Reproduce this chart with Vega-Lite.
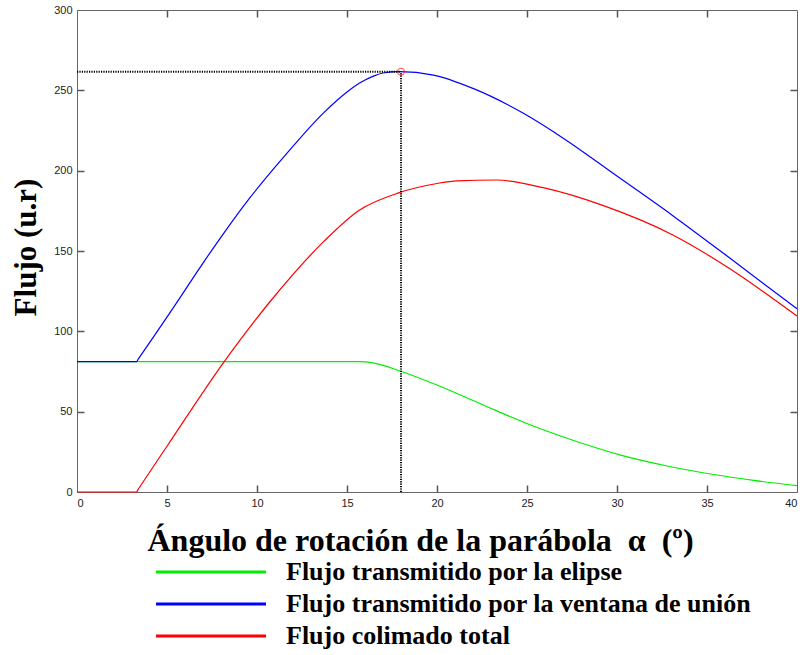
{
  "$schema": "https://vega.github.io/schema/vega-lite/v6.json",
  "width": 720,
  "height": 482,
  "autosize": {"type": "none"},
  "padding": {"left": 77, "top": 10, "right": 8, "bottom": 163},
  "background": "white",
  "config": {
    "view": {"stroke": "#666666", "strokeWidth": 1},
    "axis": {
      "domainColor": "#666666",
      "grid": false,
      "labelFont": "Liberation Sans",
      "labelFontSize": 11,
      "labelColor": "#222222"
    },
    "legend": {
      "orient": "none",
      "legendX": 121,
      "legendY": 549,
      "title": null,
      "symbolType": "M-5,0H5",
      "symbolSize": 484,
      "symbolStrokeWidth": 3,
      "labelFont": "Liberation Serif",
      "labelFontWeight": "bold",
      "labelFontSize": 26,
      "labelColor": "black",
      "labelOffset": 62,
      "labelLimit": 0,
      "rowPadding": 6,
      "padding": 0
    }
  },
  "datasets": {
    "curvas": [
      {"x": 0, "y": 81.1, "serie": "Flujo transmitido por la elipse"},
      {"x": 3.3, "y": 81.1, "serie": "Flujo transmitido por la elipse"},
      {"x": 15.7, "y": 81.1, "serie": "Flujo transmitido por la elipse"},
      {"x": 16.5, "y": 80.2, "serie": "Flujo transmitido por la elipse"},
      {"x": 17.9, "y": 75.5, "serie": "Flujo transmitido por la elipse"},
      {"x": 20.0, "y": 66.6, "serie": "Flujo transmitido por la elipse"},
      {"x": 22.5, "y": 54.5, "serie": "Flujo transmitido por la elipse"},
      {"x": 25.2, "y": 41.7, "serie": "Flujo transmitido por la elipse"},
      {"x": 27.8, "y": 31.3, "serie": "Flujo transmitido por la elipse"},
      {"x": 30.2, "y": 23.0, "serie": "Flujo transmitido por la elipse"},
      {"x": 32.8, "y": 16.2, "serie": "Flujo transmitido por la elipse"},
      {"x": 35.2, "y": 11.2, "serie": "Flujo transmitido por la elipse"},
      {"x": 37.6, "y": 7.2, "serie": "Flujo transmitido por la elipse"},
      {"x": 40.0, "y": 4.0, "serie": "Flujo transmitido por la elipse"},
      {"x": 0, "y": 81.1, "serie": "Flujo transmitido por la ventana de unión"},
      {"x": 3.3, "y": 81.1, "serie": "Flujo transmitido por la ventana de unión"},
      {"x": 3.4, "y": 82.7, "serie": "Flujo transmitido por la ventana de unión"},
      {"x": 5.4, "y": 115.5, "serie": "Flujo transmitido por la ventana de unión"},
      {"x": 7.0, "y": 142.5, "serie": "Flujo transmitido por la ventana de unión"},
      {"x": 8.15, "y": 161.0, "serie": "Flujo transmitido por la ventana de unión"},
      {"x": 9.6, "y": 183.0, "serie": "Flujo transmitido por la ventana de unión"},
      {"x": 11.5, "y": 208.7, "serie": "Flujo transmitido por la ventana de unión"},
      {"x": 13.7, "y": 236.0, "serie": "Flujo transmitido por la ventana de unión"},
      {"x": 15.0, "y": 249.0, "serie": "Flujo transmitido por la ventana de unión"},
      {"x": 15.7, "y": 254.5, "serie": "Flujo transmitido por la ventana de unión"},
      {"x": 16.5, "y": 259.0, "serie": "Flujo transmitido por la ventana de unión"},
      {"x": 17.0, "y": 260.8, "serie": "Flujo transmitido por la ventana de unión"},
      {"x": 17.9, "y": 261.6, "serie": "Flujo transmitido por la ventana de unión"},
      {"x": 19.8, "y": 259.5, "serie": "Flujo transmitido por la ventana de unión"},
      {"x": 22.0, "y": 251.2, "serie": "Flujo transmitido por la ventana de unión"},
      {"x": 24.8, "y": 235.7, "serie": "Flujo transmitido por la ventana de unión"},
      {"x": 27.2, "y": 218.8, "serie": "Flujo transmitido por la ventana de unión"},
      {"x": 29.8, "y": 198.2, "serie": "Flujo transmitido por la ventana de unión"},
      {"x": 33.1, "y": 172.0, "serie": "Flujo transmitido por la ventana de unión"},
      {"x": 36.1, "y": 147.0, "serie": "Flujo transmitido por la ventana de unión"},
      {"x": 40.0, "y": 114.0, "serie": "Flujo transmitido por la ventana de unión"},
      {"x": 0, "y": 0, "serie": "Flujo colimado total"},
      {"x": 3.3, "y": 0, "serie": "Flujo colimado total"},
      {"x": 3.4, "y": 1.7, "serie": "Flujo colimado total"},
      {"x": 5.0, "y": 28.5, "serie": "Flujo colimado total"},
      {"x": 8.2, "y": 81.5, "serie": "Flujo colimado total"},
      {"x": 10.8, "y": 119.5, "serie": "Flujo colimado total"},
      {"x": 13.7, "y": 155.8, "serie": "Flujo colimado total"},
      {"x": 15.7, "y": 175.5, "serie": "Flujo colimado total"},
      {"x": 17.9, "y": 186.3, "serie": "Flujo colimado total"},
      {"x": 20.0, "y": 192.0, "serie": "Flujo colimado total"},
      {"x": 21.1, "y": 193.7, "serie": "Flujo colimado total"},
      {"x": 23.3, "y": 194.2, "serie": "Flujo colimado total"},
      {"x": 25.9, "y": 189.4, "serie": "Flujo colimado total"},
      {"x": 29.4, "y": 177.6, "serie": "Flujo colimado total"},
      {"x": 33.1, "y": 160.0, "serie": "Flujo colimado total"},
      {"x": 36.1, "y": 140.2, "serie": "Flujo colimado total"},
      {"x": 40.0, "y": 109.5, "serie": "Flujo colimado total"}
    ],
    "guias": [
      {"x": 0, "x2": 18, "y": 261.6, "y2": 261.6},
      {"x": 18, "x2": 18, "y": 0, "y2": 261.6}
    ],
    "maximo": [
      {"x": 18, "y": 261.6}
    ]
  },
  "resolve": {"axis": {"x": "independent", "y": "independent"}},
  "layer": [
    {
      "data": {"name": "curvas"},
      "mark": {"type": "line", "interpolate": "monotone", "strokeWidth": 1.2},
      "encoding": {
        "x": {
          "field": "x", "type": "quantitative",
          "scale": {"domain": [0, 40], "nice": false, "zero": false},
          "axis": {
            "orient": "bottom",
            "values": [0, 5, 10, 15, 20, 25, 30, 35, 40],
            "tickSize": 0,
            "labelPadding": 5,
            "title": "Ángulo de rotación de la parábola\u00a0\u00a0α\u00a0\u00a0(º)",
            "titleFont": "Liberation Serif",
            "titleFontWeight": "bold",
            "titleFontSize": 32,
            "titleColor": "black",
            "titleX": 343,
            "titleY": 58,
            "titleAlign": "center",
            "titleBaseline": "alphabetic",
            "titleAnchor": null
          }
        },
        "y": {
          "field": "y", "type": "quantitative",
          "scale": {"domain": [0, 300], "nice": false},
          "axis": {
            "orient": "left",
            "values": [0, 50, 100, 150, 200, 250, 300],
            "tickSize": 0,
            "labelPadding": 5,
            "title": "Flujo (u.r)",
            "titleFont": "Liberation Serif",
            "titleFontWeight": "bold",
            "titleFontSize": 31,
            "titleColor": "black",
            "titleX": -42,
            "titleY": 237,
            "titleAngle": -90,
            "titleAlign": "center",
            "titleBaseline": "alphabetic",
            "titleAnchor": null
          }
        },
        "color": {
          "field": "serie", "type": "nominal",
          "scale": {
            "domain": ["Flujo transmitido por la elipse", "Flujo transmitido por la ventana de unión", "Flujo colimado total"],
            "range": ["#00ee00", "#0000ff", "#ff0000"]
          }
        }
      }
    },
    {
      "data": {"name": "guias"},
      "mark": {"type": "rule", "color": "black", "strokeWidth": 2, "strokeDash": [1.2, 1.2]},
      "encoding": {
        "x": {"field": "x", "type": "quantitative", "scale": {"domain": [0, 40], "nice": false},
              "axis": {"orient": "top", "offset": -482, "ticks": true, "tickSize": 7, "tickColor": "#555555", "tickWidth": 1.5, "values": [5, 10, 15, 20, 25, 30, 35], "labels": true, "labelOpacity": 0, "domain": false, "title": null}},
        "x2": {"field": "x2"},
        "y": {"field": "y", "type": "quantitative", "scale": {"domain": [0, 300], "nice": false},
              "axis": {"orient": "right", "offset": -720, "ticks": true, "tickSize": 7, "tickColor": "#555555", "tickWidth": 1.5, "values": [50, 100, 150, 200, 250], "labels": true, "labelOpacity": 0, "domain": false, "title": null}},
        "y2": {"field": "y2"}
      }
    },
    {
      "data": {"name": "maximo"},
      "mark": {"type": "point", "filled": false, "color": "red", "size": 50, "strokeWidth": 1},
      "encoding": {
        "x": {"field": "x", "type": "quantitative", "scale": {"domain": [0, 40], "nice": false},
              "axis": {"orient": "bottom", "offset": -482, "ticks": true, "tickSize": 7, "tickColor": "#555555", "tickWidth": 1.5, "values": [5, 10, 15, 20, 25, 30, 35], "labels": true, "labelOpacity": 0, "domain": false, "title": null}},
        "y": {"field": "y", "type": "quantitative", "scale": {"domain": [0, 300], "nice": false},
              "axis": {"orient": "left", "offset": -720, "ticks": true, "tickSize": 7, "tickColor": "#555555", "tickWidth": 1.5, "values": [50, 100, 150, 200, 250], "labels": true, "labelOpacity": 0, "domain": false, "title": null}}
      }
    }
  ]
}
